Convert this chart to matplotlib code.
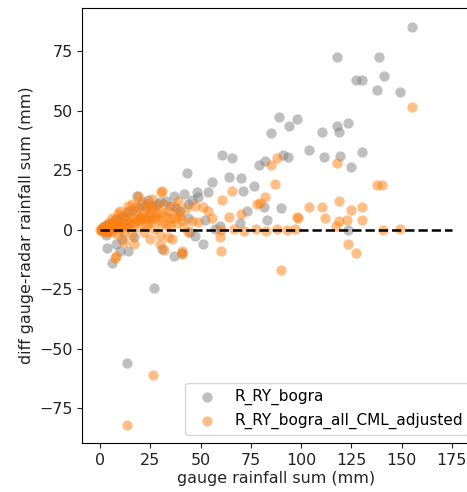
import matplotlib

matplotlib.use("Agg")
import matplotlib.pyplot as plt

# gauge rainfall sum (mm) vs gauge-radar difference (mm)
gray_x = [155, 117.8, 139, 127.3, 130.5, 141.1, 137.7, 149.3,
          89, 97.8, 94, 85.2, 110.6, 117.8, 118.8, 123.4,
          104, 111.4, 119.5, 130.5, 125, 60.7, 65.8, 79.1, 81.9, 91, 93.5,
          43.2, 64, 70.2, 76.8, 55.5, 71,
          41.6, 48.1, 53.8, 48.9, 36.7, 18.2,
          26.1, 28.5, 89.8, 81.8, 73.1, 83.3, 69.5, 59.8, 123.2,
          3.3, 6, 9.8, 13.9, 31, 36.7, 40.8, 47.3, 51.4,
          26.9, 13.4,
          1, 2, 3, 4, 5, 6, 8, 10, 12, 14, 16, 19, 21, 23, 24, 30, 33, 35, 38, 40,
          44, 46, 20, 25, 15, 11, 17, 8, 44, 52, 57, 45]
gray_y = [85.4, 72.5, 72.5, 63, 63, 64.5, 58.7, 57.8,
          47.3, 46.5, 43.5, 40.5, 41, 43.5, 41.1, 44.8,
          33.5, 30.5, 31.2, 32.8, 26.3, 31.5, 30, 27.2, 28.8, 31.4, 30.4,
          24, 22.3, 21.8, 18.6, 20, 16.2,
          15.1, 15.8, 15.8, 13.7, 14.4, 14,
          10.2, 10.9, 9.3, 9.7, 7.7, 4.1, 2.9, 1.4, -0.2,
          -7.5, -13.9, -8.9, -8.9, -8.2, -11, -9.6, -2.5, -6.1,
          -24.4, -55.8,
          0.5, 1.5, -2, 2.5, 1, 3, 4.5, 5, 6, 7.5, 8.5, 9, 11, 10, 12.5, 11.5, 12, 10, 9, 8,
          11, 12.5, 5, 6, 3, -4, -3, -6, 5, 4, 0.5, -1]

orange_x = [155, 117.7, 85, 88, 87.3, 138, 140.5,
            65.7, 60.8, 81.9, 79.6, 119, 104, 110.5, 124.8, 130.5,
            111.8, 119.1, 122.7, 130.5, 117.5, 98.5, 97.8,
            64, 70.2, 78.3, 55.5, 48.9, 45.7, 47.3, 51.4, 53.8, 30.2, 31,
            140.8, 149.3, 60.4, 66.9, 71.8, 77.5, 82.4, 88.1, 93, 97.1,
            59.6, 60.4, 40.8, 31.8, 41, 7.3, 8.2, 90.2, 123.2, 127.3,
            26.6, 13.4,
            0, 0.5, 1, 1.5, 2, 2.5, 3, 3.5, 4, 5, 5.5, 6, 7, 8, 9, 10, 11, 12, 13, 14,
            15, 16, 17, 18, 19, 20, 21, 22, 23, 24, 25, 26, 27, 28, 29, 30, 31, 32, 33, 34,
            35, 36, 37, 38, 39, 40, 42, 43, 44, 10, 14, 19, 23, 12, 17, 25, 6, 9, 30, 34,
            1, 2, 3, 4, 5, 6, 7, 8, 9, 11, 13, 15, 17, 19, 21, 23, 25, 27, 29, 31,
            33, 35, 37, 39, 41, 4, 7, 11, 14, 18, 22, 26, 20, 24, 28, 16]
orange_y = [51.8, 28, 27.1, 30, 19.1, 19, 19,
            16.2, 12.5, 13.6, 11.2, 11.9, 9.5, 9.5, 8.4, 9.5,
            5.1, 3.8, 4.2, 4.2, 1.7, 5, 5.2,
            5.2, 6.7, 10.9, 5.1, 3.1, 3.5, 10.2, 9.5, 8, 15.8, 16.5,
            0, 0.3, -0.3, 0.2, -0.5, 0.3, -0.4, 0.5, 0, 0.2,
            -3, -8.9, -9, -8.5, -10.3, -11.7, -11, -16.7, -6.1, -9.9,
            -60.9, -81.9,
            0, 0.3, -0.5, 1, 0, -1, 0.5, 1.5, -0.5, 0.5, 2, -1, 1, 3, -2, 0.5, 2.5, -1, 4, 1,
            6, -2, 3, 8, 1, 5, 12, -1, 9, 3, 7, 13, 0.5, 10, 4, -2, 7, 11, 2, 8,
            5, -4, 10, 3, 12, 6, 1, 9, -1, 8, 10, 14, 5, -5, -6, -4, 5, 7, -6, -3,
            0, 1, 0, -1, 1.5, 0.5, 2, 1, 3, 1, 2, 3, 5, 4, 6, 2, 4, 5, 7, 3,
            6, 2, 5, 7, 4, 3, 4, 6, 8, 10, 7, 9, 4, 11, 6, 11]

line_start = 0
line_end = 175

fig = plt.figure(figsize=(4.67, 4.92), dpi=100)
# right spine falls just outside the picture, as in the original crop
ax = fig.add_axes([82.4 / 467, 49 / 492, 387 / 467, 435 / 492])

ax.scatter(gray_x, gray_y, s=55, color="grey", alpha=0.5, linewidths=0, label="R_RY_bogra")
ax.scatter(orange_x, orange_y, s=55, color="tab:orange", alpha=0.5, linewidths=0,
           label="R_RY_bogra_all_CML_adjusted")
ax.hlines(0, line_start, line_end, colors="k", linestyles="--", linewidth=1.8)

ax.set_xlim(-8.75, 183.75)
ax.set_ylim(-89.6, 93.2)
ax.set_xticks([0, 25, 50, 75, 100, 125, 150, 175])
ax.set_yticks([-75, -50, -25, 0, 25, 50, 75])
ax.tick_params(labelsize=11.4, colors="#222222")
ax.set_xlabel("gauge rainfall sum (mm)", fontsize=11.4, color="#222222", labelpad=2)
ax.set_ylabel("diff gauge-radar rainfall sum (mm)", fontsize=11.4, color="#222222")
ax.legend(loc="lower right", bbox_to_anchor=(1.019, 0), fontsize=11)

fig.savefig("out.png", dpi=100)
